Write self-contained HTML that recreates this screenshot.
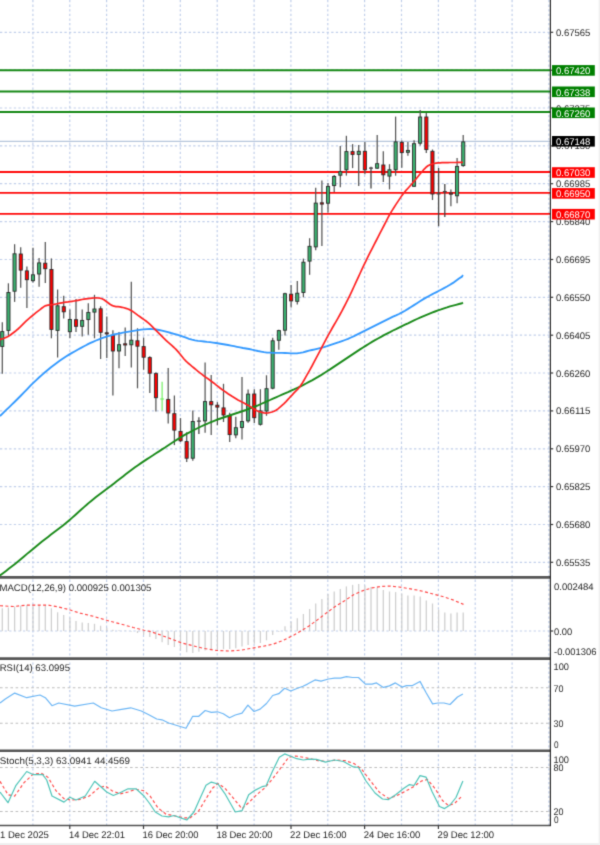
<!DOCTYPE html>
<html><head><meta charset="utf-8"><title>Chart</title>
<style>html,body{margin:0;padding:0;background:#fff}svg{display:block}text{font-family:"Liberation Sans",sans-serif;font-size:9.6px;fill:#262626;text-rendering:geometricPrecision}</style></head><body>
<svg width="600" height="845" viewBox="0 0 600 845">
<defs><filter id="soft" x="0" y="0" width="100%" height="100%" filterUnits="objectBoundingBox" color-interpolation-filters="sRGB"><feConvolveMatrix order="3" kernelMatrix="0.037 0.19 0.037 0.19 1 0.19 0.037 0.19 0.037" edgeMode="duplicate" preserveAlpha="true"/></filter></defs>
<g filter="url(#soft)">
<rect width="600" height="845" fill="#fff"/>
<g stroke="#c1cfea" stroke-width="1.2" stroke-dasharray="2.3 2.3" fill="none">
<line x1="32.9" y1="0" x2="32.9" y2="825"/>
<line x1="69.8" y1="0" x2="69.8" y2="825"/>
<line x1="106.6" y1="0" x2="106.6" y2="825"/>
<line x1="143.5" y1="0" x2="143.5" y2="825"/>
<line x1="180.3" y1="0" x2="180.3" y2="825"/>
<line x1="217.2" y1="0" x2="217.2" y2="825"/>
<line x1="254.1" y1="0" x2="254.1" y2="825"/>
<line x1="290.9" y1="0" x2="290.9" y2="825"/>
<line x1="327.8" y1="0" x2="327.8" y2="825"/>
<line x1="364.6" y1="0" x2="364.6" y2="825"/>
<line x1="401.5" y1="0" x2="401.5" y2="825"/>
<line x1="438.4" y1="0" x2="438.4" y2="825"/>
<line x1="475.2" y1="0" x2="475.2" y2="825"/>
<line x1="512.1" y1="0" x2="512.1" y2="825"/>
<line x1="548.9" y1="0" x2="548.9" y2="825"/>
<line x1="0" y1="32.3" x2="550.4" y2="32.3"/>
<line x1="0" y1="70.2" x2="550.4" y2="70.2"/>
<line x1="0" y1="108.0" x2="550.4" y2="108.0"/>
<line x1="0" y1="145.9" x2="550.4" y2="145.9"/>
<line x1="0" y1="183.7" x2="550.4" y2="183.7"/>
<line x1="0" y1="221.6" x2="550.4" y2="221.6"/>
<line x1="0" y1="259.5" x2="550.4" y2="259.5"/>
<line x1="0" y1="297.3" x2="550.4" y2="297.3"/>
<line x1="0" y1="335.2" x2="550.4" y2="335.2"/>
<line x1="0" y1="373.0" x2="550.4" y2="373.0"/>
<line x1="0" y1="410.9" x2="550.4" y2="410.9"/>
<line x1="0" y1="448.8" x2="550.4" y2="448.8"/>
<line x1="0" y1="486.6" x2="550.4" y2="486.6"/>
<line x1="0" y1="524.5" x2="550.4" y2="524.5"/>
<line x1="0" y1="562.3" x2="550.4" y2="562.3"/>
<line x1="0" y1="631" x2="550.4" y2="631"/>
</g>
<g stroke="#bdbdbd" stroke-width="1.1" stroke-dasharray="2.6 2.6">
<line x1="0" y1="687.8" x2="550.4" y2="687.8"/>
<line x1="0" y1="723.2" x2="550.4" y2="723.2"/>
<line x1="0" y1="767.5" x2="550.4" y2="767.5"/>
<line x1="0" y1="811.5" x2="550.4" y2="811.5"/>
</g>
<line x1="0" y1="141.4" x2="550.4" y2="141.4" stroke="#b7c6dc" stroke-width="1.2"/>
<line x1="0" y1="70.2" x2="550.4" y2="70.2" stroke="#158815" stroke-width="2.0"/>
<line x1="0" y1="91.6" x2="550.4" y2="91.6" stroke="#158815" stroke-width="2.0"/>
<line x1="0" y1="111.9" x2="550.4" y2="111.9" stroke="#158815" stroke-width="2.0"/>
<line x1="0" y1="172.0" x2="550.4" y2="172.0" stroke="#ff0a0a" stroke-width="1.8"/>
<line x1="0" y1="192.9" x2="550.4" y2="192.9" stroke="#ff0a0a" stroke-width="1.8"/>
<line x1="0" y1="213.8" x2="550.4" y2="213.8" stroke="#ff0a0a" stroke-width="1.8"/>
<g>
<line x1="2.3" y1="322.3" x2="2.3" y2="373.8" stroke="#555" stroke-width="1.25"/>
<rect x="0.7" y="331.6" width="3.1" height="14.8" fill="#3cb371" stroke="#2b2b2b" stroke-width="0.9"/>
<line x1="8.4" y1="283.3" x2="8.4" y2="336.5" stroke="#555" stroke-width="1.25"/>
<rect x="6.9" y="292.5" width="3.1" height="37.9" fill="#3cb371" stroke="#2b2b2b" stroke-width="0.9"/>
<line x1="14.6" y1="244.2" x2="14.6" y2="301.9" stroke="#555" stroke-width="1.25"/>
<rect x="13.0" y="253.8" width="3.1" height="37.4" fill="#3cb371" stroke="#2b2b2b" stroke-width="0.9"/>
<line x1="20.7" y1="247.2" x2="20.7" y2="287.7" stroke="#555" stroke-width="1.25"/>
<rect x="19.2" y="254.0" width="3.1" height="16.1" fill="#ff0000" stroke="#2b2b2b" stroke-width="0.9"/>
<line x1="26.9" y1="266.4" x2="26.9" y2="308.1" stroke="#555" stroke-width="1.25"/>
<rect x="25.3" y="270.9" width="3.1" height="8.8" fill="#ff0000" stroke="#2b2b2b" stroke-width="0.9"/>
<line x1="33.0" y1="247.8" x2="33.0" y2="282.4" stroke="#555" stroke-width="1.25"/>
<rect x="31.4" y="274.8" width="3.1" height="5.9" fill="#3cb371" stroke="#2b2b2b" stroke-width="0.9"/>
<line x1="39.1" y1="258.0" x2="39.1" y2="286.8" stroke="#555" stroke-width="1.25"/>
<rect x="37.6" y="262.9" width="3.1" height="11.1" fill="#3cb371" stroke="#2b2b2b" stroke-width="0.9"/>
<line x1="45.3" y1="242.1" x2="45.3" y2="282.9" stroke="#555" stroke-width="1.25"/>
<rect x="43.7" y="263.2" width="3.1" height="5.5" fill="#ff0000" stroke="#2b2b2b" stroke-width="0.9"/>
<line x1="51.4" y1="258.4" x2="51.4" y2="338.3" stroke="#555" stroke-width="1.25"/>
<rect x="49.9" y="269.5" width="3.1" height="59.9" fill="#ff0000" stroke="#2b2b2b" stroke-width="0.9"/>
<line x1="57.6" y1="289.5" x2="57.6" y2="357.5" stroke="#555" stroke-width="1.25"/>
<rect x="56.0" y="305.8" width="3.1" height="24.6" fill="#3cb371" stroke="#2b2b2b" stroke-width="0.9"/>
<line x1="63.7" y1="295.7" x2="63.7" y2="318.4" stroke="#555" stroke-width="1.25"/>
<rect x="62.2" y="306.7" width="3.1" height="5.1" fill="#ff0000" stroke="#2b2b2b" stroke-width="0.9"/>
<line x1="69.9" y1="309.5" x2="69.9" y2="338.3" stroke="#555" stroke-width="1.25"/>
<rect x="68.3" y="319.5" width="3.1" height="12.2" fill="#3cb371" stroke="#2b2b2b" stroke-width="0.9"/>
<line x1="76.0" y1="298.9" x2="76.0" y2="332.1" stroke="#555" stroke-width="1.25"/>
<rect x="74.5" y="319.7" width="3.1" height="6.6" fill="#ff0000" stroke="#2b2b2b" stroke-width="0.9"/>
<line x1="82.2" y1="309.5" x2="82.2" y2="336.5" stroke="#555" stroke-width="1.25"/>
<rect x="80.6" y="320.4" width="3.1" height="5.9" fill="#3cb371" stroke="#2b2b2b" stroke-width="0.9"/>
<line x1="88.3" y1="303.3" x2="88.3" y2="334.7" stroke="#555" stroke-width="1.25"/>
<rect x="86.8" y="312.4" width="3.1" height="7.2" fill="#3cb371" stroke="#2b2b2b" stroke-width="0.9"/>
<line x1="94.5" y1="294.8" x2="94.5" y2="338.3" stroke="#555" stroke-width="1.25"/>
<rect x="92.9" y="309.0" width="3.1" height="3.1" fill="#3cb371" stroke="#2b2b2b" stroke-width="0.9"/>
<line x1="100.6" y1="306.3" x2="100.6" y2="359.0" stroke="#555" stroke-width="1.25"/>
<rect x="99.1" y="308.8" width="3.1" height="23.5" fill="#ff0000" stroke="#2b2b2b" stroke-width="0.9"/>
<line x1="106.8" y1="316.4" x2="106.8" y2="358.1" stroke="#555" stroke-width="1.25"/>
<rect x="105.2" y="332.8" width="3.1" height="1.1" fill="#ff0000" stroke="#2b2b2b" stroke-width="0.9"/>
<line x1="112.9" y1="330.2" x2="112.9" y2="395.4" stroke="#555" stroke-width="1.25"/>
<rect x="111.3" y="335.4" width="3.1" height="15.6" fill="#ff0000" stroke="#2b2b2b" stroke-width="0.9"/>
<line x1="119.0" y1="332.0" x2="119.0" y2="368.2" stroke="#555" stroke-width="1.25"/>
<rect x="117.5" y="344.7" width="3.1" height="6.3" fill="#3cb371" stroke="#2b2b2b" stroke-width="0.9"/>
<line x1="125.2" y1="327.6" x2="125.2" y2="356.0" stroke="#555" stroke-width="1.25"/>
<rect x="123.6" y="343.8" width="3.1" height="1.2" fill="#ff0000" stroke="#2b2b2b" stroke-width="0.9"/>
<line x1="131.3" y1="281.8" x2="131.3" y2="367.5" stroke="#555" stroke-width="1.25"/>
<rect x="129.8" y="340.2" width="3.1" height="4.6" fill="#3cb371" stroke="#2b2b2b" stroke-width="0.9"/>
<line x1="137.5" y1="328.3" x2="137.5" y2="388.3" stroke="#555" stroke-width="1.25"/>
<rect x="135.9" y="340.8" width="3.1" height="5.4" fill="#ff0000" stroke="#2b2b2b" stroke-width="0.9"/>
<line x1="143.6" y1="337.7" x2="143.6" y2="369.7" stroke="#555" stroke-width="1.25"/>
<rect x="142.1" y="346.6" width="3.1" height="10.6" fill="#ff0000" stroke="#2b2b2b" stroke-width="0.9"/>
<line x1="149.8" y1="356.3" x2="149.8" y2="393.1" stroke="#555" stroke-width="1.25"/>
<rect x="148.2" y="357.6" width="3.1" height="15.6" fill="#ff0000" stroke="#2b2b2b" stroke-width="0.9"/>
<line x1="155.9" y1="372.3" x2="155.9" y2="411.4" stroke="#555" stroke-width="1.25"/>
<rect x="154.4" y="373.6" width="3.1" height="24.1" fill="#ff0000" stroke="#2b2b2b" stroke-width="0.9"/>
<path d="M162.1 381.7V410.5M160.1 399.0H164.1" stroke="#66ee55" stroke-width="1.1" fill="none"/>
<line x1="168.2" y1="367.9" x2="168.2" y2="423.6" stroke="#555" stroke-width="1.25"/>
<rect x="166.7" y="399.4" width="3.1" height="13.6" fill="#ff0000" stroke="#2b2b2b" stroke-width="0.9"/>
<line x1="174.4" y1="395.5" x2="174.4" y2="445.1" stroke="#555" stroke-width="1.25"/>
<rect x="172.8" y="413.7" width="3.1" height="16.4" fill="#ff0000" stroke="#2b2b2b" stroke-width="0.9"/>
<line x1="180.5" y1="418.1" x2="180.5" y2="442.0" stroke="#555" stroke-width="1.25"/>
<rect x="179.0" y="431.4" width="3.1" height="9.4" fill="#ff0000" stroke="#2b2b2b" stroke-width="0.9"/>
<line x1="186.7" y1="432.3" x2="186.7" y2="462.1" stroke="#555" stroke-width="1.25"/>
<rect x="185.1" y="441.6" width="3.1" height="16.6" fill="#ff0000" stroke="#2b2b2b" stroke-width="0.9"/>
<line x1="192.8" y1="410.5" x2="192.8" y2="460.7" stroke="#555" stroke-width="1.25"/>
<rect x="191.2" y="421.5" width="3.1" height="36.7" fill="#3cb371" stroke="#2b2b2b" stroke-width="0.9"/>
<path d="M198.9 417.2V434.1M196.9 421.1H200.9" stroke="#444" stroke-width="1.3" fill="none"/>
<line x1="205.1" y1="362.5" x2="205.1" y2="432.7" stroke="#555" stroke-width="1.25"/>
<rect x="203.5" y="401.6" width="3.1" height="19.3" fill="#3cb371" stroke="#2b2b2b" stroke-width="0.9"/>
<line x1="211.2" y1="375.0" x2="211.2" y2="435.0" stroke="#555" stroke-width="1.25"/>
<rect x="209.7" y="401.6" width="3.1" height="3.2" fill="#ff0000" stroke="#2b2b2b" stroke-width="0.9"/>
<line x1="217.4" y1="402.1" x2="217.4" y2="425.2" stroke="#555" stroke-width="1.25"/>
<rect x="215.8" y="405.2" width="3.1" height="1.9" fill="#ff0000" stroke="#2b2b2b" stroke-width="0.9"/>
<line x1="223.5" y1="383.8" x2="223.5" y2="422.0" stroke="#555" stroke-width="1.25"/>
<rect x="222.0" y="407.9" width="3.1" height="7.1" fill="#ff0000" stroke="#2b2b2b" stroke-width="0.9"/>
<line x1="229.7" y1="412.8" x2="229.7" y2="442.1" stroke="#555" stroke-width="1.25"/>
<rect x="228.1" y="415.8" width="3.1" height="18.8" fill="#ff0000" stroke="#2b2b2b" stroke-width="0.9"/>
<line x1="235.8" y1="416.7" x2="235.8" y2="438.2" stroke="#555" stroke-width="1.25"/>
<rect x="234.3" y="427.7" width="3.1" height="7.2" fill="#3cb371" stroke="#2b2b2b" stroke-width="0.9"/>
<line x1="242.0" y1="376.9" x2="242.0" y2="439.4" stroke="#555" stroke-width="1.25"/>
<rect x="240.4" y="421.5" width="3.1" height="6.0" fill="#3cb371" stroke="#2b2b2b" stroke-width="0.9"/>
<line x1="248.1" y1="389.5" x2="248.1" y2="422.7" stroke="#555" stroke-width="1.25"/>
<rect x="246.6" y="394.1" width="3.1" height="26.8" fill="#3cb371" stroke="#2b2b2b" stroke-width="0.9"/>
<line x1="254.3" y1="389.2" x2="254.3" y2="422.9" stroke="#555" stroke-width="1.25"/>
<rect x="252.7" y="394.0" width="3.1" height="23.7" fill="#ff0000" stroke="#2b2b2b" stroke-width="0.9"/>
<line x1="260.4" y1="389.2" x2="260.4" y2="425.6" stroke="#555" stroke-width="1.25"/>
<rect x="258.9" y="410.9" width="3.1" height="13.4" fill="#3cb371" stroke="#2b2b2b" stroke-width="0.9"/>
<line x1="266.5" y1="375.3" x2="266.5" y2="415.8" stroke="#555" stroke-width="1.25"/>
<rect x="265.0" y="388.7" width="3.1" height="22.3" fill="#3cb371" stroke="#2b2b2b" stroke-width="0.9"/>
<line x1="272.7" y1="337.7" x2="272.7" y2="389.2" stroke="#555" stroke-width="1.25"/>
<rect x="271.1" y="340.8" width="3.1" height="47.4" fill="#3cb371" stroke="#2b2b2b" stroke-width="0.9"/>
<line x1="278.8" y1="329.7" x2="278.8" y2="349.8" stroke="#555" stroke-width="1.25"/>
<rect x="277.3" y="330.6" width="3.1" height="9.7" fill="#3cb371" stroke="#2b2b2b" stroke-width="0.9"/>
<line x1="285.0" y1="292.8" x2="285.0" y2="335.4" stroke="#555" stroke-width="1.25"/>
<rect x="283.4" y="293.7" width="3.1" height="36.5" fill="#3cb371" stroke="#2b2b2b" stroke-width="0.9"/>
<line x1="291.1" y1="285.0" x2="291.1" y2="307.5" stroke="#555" stroke-width="1.25"/>
<rect x="289.6" y="294.2" width="3.1" height="6.7" fill="#ff0000" stroke="#2b2b2b" stroke-width="0.9"/>
<line x1="297.3" y1="280.9" x2="297.3" y2="304.5" stroke="#555" stroke-width="1.25"/>
<rect x="295.7" y="293.2" width="3.1" height="8.1" fill="#3cb371" stroke="#2b2b2b" stroke-width="0.9"/>
<line x1="303.4" y1="258.6" x2="303.4" y2="297.3" stroke="#555" stroke-width="1.25"/>
<rect x="301.9" y="262.2" width="3.1" height="30.3" fill="#3cb371" stroke="#2b2b2b" stroke-width="0.9"/>
<line x1="309.6" y1="238.2" x2="309.6" y2="274.8" stroke="#555" stroke-width="1.25"/>
<rect x="308.0" y="246.3" width="3.1" height="14.8" fill="#3cb371" stroke="#2b2b2b" stroke-width="0.9"/>
<line x1="315.7" y1="187.8" x2="315.7" y2="250.3" stroke="#555" stroke-width="1.25"/>
<rect x="314.2" y="203.1" width="3.1" height="43.8" fill="#3cb371" stroke="#2b2b2b" stroke-width="0.9"/>
<line x1="321.9" y1="180.5" x2="321.9" y2="245.9" stroke="#555" stroke-width="1.25"/>
<rect x="320.3" y="202.8" width="3.1" height="1.3" fill="#ff0000" stroke="#2b2b2b" stroke-width="0.9"/>
<line x1="328.0" y1="183.0" x2="328.0" y2="212.5" stroke="#555" stroke-width="1.25"/>
<rect x="326.5" y="186.4" width="3.1" height="16.8" fill="#3cb371" stroke="#2b2b2b" stroke-width="0.9"/>
<line x1="334.2" y1="174.9" x2="334.2" y2="192.0" stroke="#555" stroke-width="1.25"/>
<rect x="332.6" y="176.5" width="3.1" height="9.1" fill="#3cb371" stroke="#2b2b2b" stroke-width="0.9"/>
<line x1="340.3" y1="145.9" x2="340.3" y2="187.2" stroke="#555" stroke-width="1.25"/>
<rect x="338.8" y="171.6" width="3.1" height="3.6" fill="#3cb371" stroke="#2b2b2b" stroke-width="0.9"/>
<line x1="346.4" y1="135.8" x2="346.4" y2="175.6" stroke="#555" stroke-width="1.25"/>
<rect x="344.9" y="151.6" width="3.1" height="18.2" fill="#3cb371" stroke="#2b2b2b" stroke-width="0.9"/>
<line x1="352.6" y1="144.1" x2="352.6" y2="168.1" stroke="#555" stroke-width="1.25"/>
<rect x="351.0" y="151.6" width="3.1" height="2.8" fill="#ff0000" stroke="#2b2b2b" stroke-width="0.9"/>
<line x1="358.7" y1="145.0" x2="358.7" y2="185.9" stroke="#555" stroke-width="1.25"/>
<rect x="357.2" y="151.3" width="3.1" height="3.1" fill="#3cb371" stroke="#2b2b2b" stroke-width="0.9"/>
<line x1="364.9" y1="142.0" x2="364.9" y2="174.3" stroke="#555" stroke-width="1.25"/>
<rect x="363.3" y="151.3" width="3.1" height="18.5" fill="#ff0000" stroke="#2b2b2b" stroke-width="0.9"/>
<path d="M371.0 166.7V188.5M369.0 168.1H373.0" stroke="#444" stroke-width="1.3" fill="none"/>
<line x1="377.2" y1="134.9" x2="377.2" y2="169.0" stroke="#555" stroke-width="1.25"/>
<rect x="375.6" y="163.7" width="3.1" height="4.5" fill="#3cb371" stroke="#2b2b2b" stroke-width="0.9"/>
<line x1="383.3" y1="151.2" x2="383.3" y2="182.0" stroke="#555" stroke-width="1.25"/>
<rect x="381.8" y="165.0" width="3.1" height="9.8" fill="#ff0000" stroke="#2b2b2b" stroke-width="0.9"/>
<line x1="389.5" y1="164.2" x2="389.5" y2="189.4" stroke="#555" stroke-width="1.25"/>
<rect x="387.9" y="169.8" width="3.1" height="6.3" fill="#3cb371" stroke="#2b2b2b" stroke-width="0.9"/>
<line x1="395.6" y1="116.6" x2="395.6" y2="175.7" stroke="#555" stroke-width="1.25"/>
<rect x="394.1" y="141.9" width="3.1" height="27.9" fill="#3cb371" stroke="#2b2b2b" stroke-width="0.9"/>
<line x1="401.8" y1="140.6" x2="401.8" y2="167.8" stroke="#555" stroke-width="1.25"/>
<rect x="400.2" y="142.4" width="3.1" height="10.2" fill="#ff0000" stroke="#2b2b2b" stroke-width="0.9"/>
<line x1="407.9" y1="142.0" x2="407.9" y2="155.7" stroke="#555" stroke-width="1.25"/>
<rect x="406.4" y="150.4" width="3.1" height="1.9" fill="#3cb371" stroke="#2b2b2b" stroke-width="0.9"/>
<line x1="414.1" y1="140.2" x2="414.1" y2="187.1" stroke="#555" stroke-width="1.25"/>
<rect x="412.5" y="143.7" width="3.1" height="42.6" fill="#3cb371" stroke="#2b2b2b" stroke-width="0.9"/>
<line x1="420.2" y1="109.9" x2="420.2" y2="145.4" stroke="#555" stroke-width="1.25"/>
<rect x="418.6" y="117.0" width="3.1" height="26.2" fill="#3cb371" stroke="#2b2b2b" stroke-width="0.9"/>
<line x1="426.3" y1="113.1" x2="426.3" y2="153.0" stroke="#555" stroke-width="1.25"/>
<rect x="424.8" y="117.0" width="3.1" height="32.6" fill="#ff0000" stroke="#2b2b2b" stroke-width="0.9"/>
<line x1="432.5" y1="149.5" x2="432.5" y2="200.0" stroke="#555" stroke-width="1.25"/>
<rect x="430.9" y="151.3" width="3.1" height="42.7" fill="#ff0000" stroke="#2b2b2b" stroke-width="0.9"/>
<path d="M438.6 168.1V226.3M436.6 193.9H440.6" stroke="#444" stroke-width="1.3" fill="none"/>
<path d="M444.8 184.1V216.9M442.8 191.7H446.8" stroke="#444" stroke-width="1.3" fill="none"/>
<line x1="450.9" y1="189.4" x2="450.9" y2="206.3" stroke="#555" stroke-width="1.25"/>
<rect x="449.4" y="193.0" width="3.1" height="1.2" fill="#ff0000" stroke="#2b2b2b" stroke-width="0.9"/>
<line x1="457.1" y1="158.0" x2="457.1" y2="203.3" stroke="#555" stroke-width="1.25"/>
<rect x="455.5" y="166.4" width="3.1" height="29.4" fill="#3cb371" stroke="#2b2b2b" stroke-width="0.9"/>
<line x1="463.2" y1="134.9" x2="463.2" y2="166.7" stroke="#555" stroke-width="1.25"/>
<rect x="461.7" y="141.9" width="3.1" height="23.7" fill="#3cb371" stroke="#2b2b2b" stroke-width="0.9"/>
</g>
<polyline points="0.0,575.4 3.0,573.2 6.0,570.9 9.0,568.6 12.0,566.3 15.0,563.9 18.0,561.5 21.0,559.0 24.0,556.5 27.0,553.9 30.0,551.4 33.0,548.9 36.0,546.4 39.0,543.9 42.0,541.5 45.0,539.2 48.0,536.9 51.0,534.6 54.0,532.3 57.0,530.0 60.0,527.7 63.0,525.4 66.0,523.0 69.0,520.5 72.0,517.9 75.0,515.2 78.0,512.5 81.0,509.8 84.0,507.1 87.0,504.5 90.0,501.9 93.0,499.5 96.0,497.1 99.0,494.8 102.0,492.5 105.0,490.3 108.0,488.0 111.0,485.8 114.0,483.4 117.0,481.1 120.0,478.8 123.0,476.4 126.0,474.1 129.0,471.8 132.0,469.5 135.0,467.3 138.0,465.2 141.0,463.1 144.0,461.1 147.0,459.1 150.0,457.2 153.0,455.3 156.0,453.3 159.0,451.4 162.0,449.4 165.0,447.5 168.0,445.5 171.0,443.5 174.0,441.5 177.0,439.6 180.0,437.7 183.0,435.9 186.0,434.2 189.0,432.6 192.0,431.0 195.0,429.5 198.0,428.0 201.0,426.5 204.0,425.1 207.0,423.8 210.0,422.5 213.0,421.3 216.0,420.1 219.0,419.0 222.0,418.0 225.0,417.0 228.0,416.0 231.0,415.0 234.0,414.0 237.0,413.0 240.0,412.0 243.0,411.0 246.0,410.0 249.0,408.9 252.0,407.7 255.0,406.5 258.0,405.3 261.0,404.0 264.0,402.7 267.0,401.3 270.0,400.0 273.0,398.6 276.0,397.3 279.0,396.0 282.0,394.7 285.0,393.4 288.0,392.1 291.0,390.7 294.0,389.4 297.0,388.0 300.0,386.6 303.0,385.1 306.0,383.5 309.0,381.9 312.0,380.3 315.0,378.6 318.0,376.9 321.0,375.1 324.0,373.2 327.0,371.3 330.0,369.4 333.0,367.4 336.0,365.4 339.0,363.4 342.0,361.4 345.0,359.4 348.0,357.4 351.0,355.4 354.0,353.4 357.0,351.4 360.0,349.4 363.0,347.5 366.0,345.6 369.0,343.7 372.0,341.9 375.0,340.2 378.0,338.5 381.0,336.8 384.0,335.2 387.0,333.6 390.0,332.1 393.0,330.5 396.0,329.1 399.0,327.6 402.0,326.1 405.0,324.7 408.0,323.3 411.0,321.8 414.0,320.4 417.0,319.0 420.0,317.7 423.0,316.4 426.0,315.1 429.0,313.9 432.0,312.7 435.0,311.5 438.0,310.4 441.0,309.4 444.0,308.3 447.0,307.4 450.0,306.4 453.0,305.6 456.0,304.8 459.0,304.0 462.0,303.3 462.9,302.6" fill="none" stroke="#1a8a1a" stroke-width="1.9" stroke-linejoin="round"/>
<polyline points="0.0,416.0 3.0,413.1 6.0,410.2 9.0,407.3 12.0,404.4 15.0,401.5 18.0,398.5 21.0,395.5 24.0,392.4 27.0,389.3 30.0,386.2 33.0,383.2 36.0,380.3 39.0,377.5 42.0,374.9 45.0,372.3 48.0,369.8 51.0,367.3 54.0,365.0 57.0,362.8 60.0,360.6 63.0,358.5 66.0,356.5 69.0,354.6 72.0,352.9 75.0,351.2 78.0,349.5 81.0,347.9 84.0,346.3 87.0,344.7 90.0,343.2 93.0,341.8 96.0,340.5 99.0,339.3 102.0,338.2 105.0,337.2 108.0,336.2 111.0,335.3 114.0,334.5 117.0,333.9 120.0,333.3 123.0,332.7 126.0,332.2 129.0,331.7 132.0,331.2 135.0,330.6 138.0,330.1 141.0,329.6 144.0,329.3 147.0,329.1 150.0,329.0 153.0,329.2 156.0,329.5 159.0,330.0 162.0,330.6 165.0,331.3 168.0,332.1 171.0,333.0 174.0,333.8 177.0,334.7 180.0,335.7 183.0,336.7 186.0,337.7 189.0,338.8 192.0,339.7 195.0,340.3 198.0,340.8 201.0,341.1 204.0,341.5 207.0,341.9 210.0,342.2 213.0,342.6 216.0,343.0 219.0,343.5 222.0,344.0 225.0,344.5 228.0,345.0 231.0,345.6 234.0,346.2 237.0,346.8 240.0,347.4 243.0,348.0 246.0,348.5 249.0,349.0 252.0,349.7 255.0,350.3 258.0,351.0 261.0,351.6 264.0,352.2 267.0,352.6 270.0,352.7 273.0,352.8 276.0,352.8 279.0,352.8 282.0,352.9 285.0,353.0 288.0,353.2 291.0,353.4 294.0,353.4 297.0,353.3 300.0,352.9 303.0,352.3 306.0,351.5 309.0,350.7 312.0,350.0 315.0,349.3 318.0,348.6 321.0,347.9 324.0,347.1 327.0,346.2 330.0,345.2 333.0,344.2 336.0,343.2 339.0,342.2 342.0,341.1 345.0,340.0 348.0,338.9 351.0,337.5 354.0,336.1 357.0,334.6 360.0,333.1 363.0,331.6 366.0,330.1 369.0,328.6 372.0,327.1 375.0,325.6 378.0,324.1 381.0,322.6 384.0,321.1 387.0,319.6 390.0,318.2 393.0,316.7 396.0,315.4 399.0,314.0 402.0,312.4 405.0,310.7 408.0,308.9 411.0,307.0 414.0,305.1 417.0,303.2 420.0,301.3 423.0,299.4 426.0,297.6 429.0,296.0 432.0,294.4 435.0,292.8 438.0,291.3 441.0,289.7 444.0,288.1 447.0,286.5 450.0,284.8 453.0,282.9 456.0,280.7 459.0,278.5 462.0,276.6 462.9,275.0" fill="none" stroke="#3399ff" stroke-width="1.85" stroke-linejoin="round"/>
<polyline points="0.0,339.7 2.0,338.9 4.0,338.2 6.0,337.4 8.0,336.4 10.0,335.2 12.0,333.7 14.0,332.2 16.0,330.7 18.0,329.0 20.0,327.2 22.0,325.2 24.0,323.1 26.0,321.2 28.0,319.4 30.0,317.7 32.0,316.0 34.0,314.4 36.0,312.7 38.0,311.1 40.0,309.6 42.0,308.0 44.0,306.6 46.0,305.6 48.0,305.1 50.0,304.9 52.0,304.7 54.0,304.4 56.0,304.0 58.0,303.6 60.0,303.2 62.0,302.8 64.0,302.4 66.0,302.1 68.0,301.9 70.0,301.6 72.0,301.3 74.0,301.0 76.0,300.7 78.0,300.3 80.0,299.9 82.0,299.5 84.0,299.2 86.0,298.9 88.0,298.6 90.0,298.4 92.0,298.2 94.0,298.0 96.0,297.9 98.0,298.0 100.0,298.2 102.0,298.7 104.0,299.7 106.0,301.2 108.0,302.7 110.0,304.2 112.0,305.4 114.0,306.2 116.0,306.6 118.0,306.7 120.0,306.9 122.0,307.3 124.0,307.8 126.0,308.4 128.0,309.0 130.0,309.9 132.0,311.0 134.0,312.4 136.0,313.9 138.0,315.4 140.0,316.8 142.0,318.2 144.0,319.6 146.0,321.0 148.0,322.6 150.0,324.4 152.0,326.3 154.0,328.4 156.0,330.4 158.0,332.4 160.0,334.4 162.0,336.4 164.0,338.4 166.0,340.3 168.0,342.2 170.0,343.9 172.0,345.7 174.0,347.5 176.0,349.4 178.0,351.6 180.0,354.0 182.0,356.5 184.0,359.0 186.0,361.1 188.0,363.0 190.0,364.7 192.0,366.4 194.0,368.0 196.0,369.7 198.0,371.3 200.0,372.9 202.0,374.4 204.0,376.0 206.0,377.4 208.0,378.8 210.0,380.2 212.0,381.7 214.0,383.2 216.0,384.8 218.0,386.4 220.0,388.0 222.0,389.5 224.0,390.9 226.0,392.3 228.0,393.7 230.0,395.0 232.0,396.3 234.0,397.5 236.0,398.7 238.0,399.9 240.0,401.0 242.0,402.1 244.0,403.1 246.0,404.2 248.0,405.3 250.0,406.4 252.0,407.7 254.0,409.0 256.0,410.2 258.0,411.2 260.0,411.9 262.0,412.4 264.0,412.9 266.0,413.1 268.0,413.0 270.0,412.5 272.0,412.0 274.0,411.3 276.0,410.3 278.0,408.9 280.0,407.2 282.0,405.4 284.0,403.6 286.0,401.6 288.0,399.4 290.0,397.2 292.0,395.1 294.0,392.9 296.0,390.9 298.0,388.9 300.0,386.5 302.0,383.6 304.0,380.2 306.0,376.7 308.0,373.2 310.0,369.6 312.0,366.0 314.0,362.2 316.0,358.4 318.0,354.6 320.0,350.8 322.0,347.0 324.0,343.2 326.0,339.4 328.0,335.7 330.0,332.1 332.0,328.5 334.0,325.0 336.0,321.6 338.0,318.1 340.0,314.5 342.0,310.8 344.0,307.0 346.0,303.2 348.0,299.2 350.0,295.1 352.0,290.8 354.0,286.5 356.0,282.2 358.0,277.8 360.0,273.5 362.0,269.2 364.0,264.9 366.0,260.8 368.0,256.7 370.0,252.7 372.0,248.8 374.0,244.9 376.0,241.0 378.0,237.1 380.0,233.2 382.0,229.3 384.0,225.5 386.0,221.6 388.0,217.7 390.0,214.0 392.0,210.6 394.0,207.5 396.0,204.4 398.0,201.4 400.0,198.4 402.0,195.4 404.0,192.8 406.0,190.4 408.0,188.2 410.0,186.0 412.0,183.7 414.0,181.4 416.0,179.0 418.0,176.5 420.0,174.0 422.0,171.7 424.0,169.3 426.0,167.3 428.0,165.8 430.0,164.7 432.0,164.0 434.0,163.5 436.0,163.2 438.0,162.9 440.0,162.8 442.0,162.7 444.0,162.7 446.0,162.6 448.0,162.6 450.0,162.5 452.0,162.5 454.0,162.5 456.0,162.5 458.0,162.4 460.0,162.4 462.0,162.4 463.0,162.4" fill="none" stroke="#ff2222" stroke-width="1.7" stroke-linejoin="round"/>
<g stroke="#cecece" stroke-width="1.25">
<line x1="2.3" y1="631" x2="2.3" y2="608.3"/>
<line x1="8.4" y1="631" x2="8.4" y2="607.5"/>
<line x1="14.6" y1="631" x2="14.6" y2="606.5"/>
<line x1="20.7" y1="631" x2="20.7" y2="605.7"/>
<line x1="26.9" y1="631" x2="26.9" y2="605.1"/>
<line x1="33.0" y1="631" x2="33.0" y2="605.1"/>
<line x1="39.1" y1="631" x2="39.1" y2="605.1"/>
<line x1="45.3" y1="631" x2="45.3" y2="605.1"/>
<line x1="51.4" y1="631" x2="51.4" y2="608.3"/>
<line x1="57.6" y1="631" x2="57.6" y2="612.3"/>
<line x1="63.7" y1="631" x2="63.7" y2="615"/>
<line x1="69.9" y1="631" x2="69.9" y2="617.7"/>
<line x1="76.0" y1="631" x2="76.0" y2="620.9"/>
<line x1="82.2" y1="631" x2="82.2" y2="622.5"/>
<line x1="88.3" y1="631" x2="88.3" y2="623"/>
<line x1="94.5" y1="631" x2="94.5" y2="623.8"/>
<line x1="100.6" y1="631" x2="100.6" y2="625.7"/>
<line x1="106.8" y1="631" x2="106.8" y2="627.8"/>
<line x1="112.9" y1="631" x2="112.9" y2="629.7"/>
<line x1="119.0" y1="631" x2="119.0" y2="630.3"/>
<line x1="125.2" y1="631" x2="125.2" y2="630.6"/>
<line x1="131.3" y1="631" x2="131.3" y2="631.6"/>
<line x1="137.5" y1="631" x2="137.5" y2="633"/>
<line x1="143.6" y1="631" x2="143.6" y2="635"/>
<line x1="149.8" y1="631" x2="149.8" y2="637"/>
<line x1="155.9" y1="631" x2="155.9" y2="639"/>
<line x1="162.1" y1="631" x2="162.1" y2="642.2"/>
<line x1="168.2" y1="631" x2="168.2" y2="644.9"/>
<line x1="174.4" y1="631" x2="174.4" y2="647"/>
<line x1="180.5" y1="631" x2="180.5" y2="650.2"/>
<line x1="186.7" y1="631" x2="186.7" y2="652.3"/>
<line x1="192.8" y1="631" x2="192.8" y2="653.1"/>
<line x1="198.9" y1="631" x2="198.9" y2="651.8"/>
<line x1="205.1" y1="631" x2="205.1" y2="650.5"/>
<line x1="211.2" y1="631" x2="211.2" y2="649.1"/>
<line x1="217.4" y1="631" x2="217.4" y2="649.7"/>
<line x1="223.5" y1="631" x2="223.5" y2="649.1"/>
<line x1="229.7" y1="631" x2="229.7" y2="649.1"/>
<line x1="235.8" y1="631" x2="235.8" y2="648.3"/>
<line x1="242.0" y1="631" x2="242.0" y2="646.5"/>
<line x1="248.1" y1="631" x2="248.1" y2="644.9"/>
<line x1="254.3" y1="631" x2="254.3" y2="643.8"/>
<line x1="260.4" y1="631" x2="260.4" y2="643"/>
<line x1="266.5" y1="631" x2="266.5" y2="640.3"/>
<line x1="272.7" y1="631" x2="272.7" y2="635"/>
<line x1="278.8" y1="631" x2="278.8" y2="631.8"/>
<line x1="285.0" y1="631" x2="285.0" y2="626.2"/>
<line x1="291.1" y1="631" x2="291.1" y2="621.7"/>
<line x1="297.3" y1="631" x2="297.3" y2="618.2"/>
<line x1="303.4" y1="631" x2="303.4" y2="614"/>
<line x1="309.6" y1="631" x2="309.6" y2="609"/>
<line x1="315.7" y1="631" x2="315.7" y2="603.5"/>
<line x1="321.9" y1="631" x2="321.9" y2="599"/>
<line x1="328.0" y1="631" x2="328.0" y2="593.9"/>
<line x1="334.2" y1="631" x2="334.2" y2="591.5"/>
<line x1="340.3" y1="631" x2="340.3" y2="589.1"/>
<line x1="346.4" y1="631" x2="346.4" y2="586.4"/>
<line x1="352.6" y1="631" x2="352.6" y2="584.9"/>
<line x1="358.7" y1="631" x2="358.7" y2="584"/>
<line x1="364.9" y1="631" x2="364.9" y2="585.5"/>
<line x1="371.0" y1="631" x2="371.0" y2="587"/>
<line x1="377.2" y1="631" x2="377.2" y2="587.6"/>
<line x1="383.3" y1="631" x2="383.3" y2="590"/>
<line x1="389.5" y1="631" x2="389.5" y2="591.5"/>
<line x1="395.6" y1="631" x2="395.6" y2="592.1"/>
<line x1="401.8" y1="631" x2="401.8" y2="593.6"/>
<line x1="407.9" y1="631" x2="407.9" y2="595.4"/>
<line x1="414.1" y1="631" x2="414.1" y2="595.4"/>
<line x1="420.2" y1="631" x2="420.2" y2="596.6"/>
<line x1="426.3" y1="631" x2="426.3" y2="600.5"/>
<line x1="432.5" y1="631" x2="432.5" y2="603.5"/>
<line x1="438.6" y1="631" x2="438.6" y2="609.5"/>
<line x1="444.8" y1="631" x2="444.8" y2="612.5"/>
<line x1="450.9" y1="631" x2="450.9" y2="613.4"/>
<line x1="457.1" y1="631" x2="457.1" y2="612.5"/>
<line x1="463.2" y1="631" x2="463.2" y2="612.5"/>
</g>
<polyline points="0.0,605.7 13.3,606.5 26.7,605.1 48.0,605.1 58.7,607.0 69.3,609.7 80.0,613.1 93.3,616.3 106.7,620.3 120.0,623.8 133.3,627.5 144.0,630.2 150.0,631.4 160.7,635.0 171.3,639.0 182.0,643.0 192.7,645.7 203.3,648.3 216.7,650.5 230.0,651.0 240.7,650.2 251.3,648.3 262.0,646.5 272.7,644.3 283.3,640.3 294.0,635.0 300.0,631.5 309.0,626.0 318.0,619.4 327.0,612.5 336.0,605.9 345.0,600.5 354.0,594.5 363.0,590.6 372.0,587.9 381.0,586.4 390.0,586.1 399.0,587.0 408.0,588.5 417.0,590.0 426.0,592.1 435.0,594.5 444.0,596.9 453.0,599.9 463.5,604.4" fill="none" stroke="#ff4545" stroke-width="1.15" stroke-dasharray="3 2.4"/>
<polyline points="0.0,703.0 5.3,699.0 14.7,693.1 26.7,697.7 40.0,695.0 45.3,697.7 52.0,705.7 58.7,703.0 74.7,706.2 93.3,703.0 101.3,707.8 112.0,711.0 120.0,709.7 130.7,707.8 141.3,711.0 149.3,715.0 156.7,719.0 162.0,719.8 168.7,723.0 186.0,728.3 192.7,716.3 198.8,716.3 205.2,710.5 211.3,712.3 217.5,711.8 223.3,713.7 229.5,717.7 235.3,715.0 242.0,713.1 247.9,705.1 254.0,711.5 260.1,709.1 266.5,703.5 272.7,695.5 278.8,693.7 284.7,688.3 290.8,691.0 297.5,688.3 303.0,686.3 307.5,684.1 315.0,679.9 321.0,681.1 328.5,679.0 334.5,678.1 340.5,678.1 346.5,676.6 352.5,677.5 358.5,677.5 365.4,684.1 372.0,684.1 376.5,682.9 383.4,687.4 389.4,685.9 395.4,682.9 402.0,687.1 406.5,685.6 412.5,685.6 420.0,681.4 426.0,692.5 432.6,703.9 438.0,703.0 444.0,703.0 450.0,704.5 457.5,697.0 462.9,694.0" fill="none" stroke="#6cb6f5" stroke-width="1.2" stroke-linejoin="round"/>
<polyline points="0.0,781.3 8.0,794.7 14.7,796.0 24.0,782.7 33.3,774.1 41.3,773.3 48.0,777.3 56.0,790.7 64.0,798.7 70.7,800.0 80.0,799.5 89.3,796.0 98.7,788.0 105.3,785.9 112.0,790.7 120.0,793.9 128.0,792.0 136.0,789.3 144.0,790.7 150.0,796.0 158.0,808.0 166.0,814.1 175.3,816.0 184.7,817.9 190.0,817.9 198.0,812.0 206.0,798.7 212.7,788.0 218.0,783.5 224.7,788.0 232.7,797.3 242.0,808.8 250.0,801.3 256.7,794.7 264.7,788.0 272.7,778.7 280.7,768.0 288.7,757.3 295.3,756.0 303.3,757.3 309.0,758.5 318.0,760.6 327.0,761.5 336.0,760.0 345.0,760.6 354.0,763.6 361.5,769.0 370.5,781.0 379.5,792.4 388.5,798.4 396.0,796.0 405.0,791.5 414.0,786.4 421.5,781.0 427.5,779.5 435.0,788.5 442.5,800.5 448.5,805.6 454.5,803.5 462.0,796.0" fill="none" stroke="#ff4a4a" stroke-width="1.15" stroke-dasharray="3 2.4"/>
<polyline points="0.0,792.0 8.0,802.7 16.0,785.3 26.7,771.5 33.3,774.7 42.7,774.7 46.7,780.0 52.0,796.0 64.0,802.1 69.9,797.3 76.0,800.0 85.3,796.0 94.7,781.3 106.7,792.0 113.3,795.5 120.0,792.8 128.0,788.8 136.0,788.8 144.0,796.0 150.0,804.0 155.3,812.0 162.0,816.0 168.7,816.8 174.0,815.5 180.7,817.9 186.8,820.0 194.0,812.0 199.3,800.0 206.0,785.3 211.3,782.1 218.0,784.0 224.7,793.3 235.3,812.0 242.0,810.7 248.7,794.7 255.3,790.1 262.0,786.7 266.0,785.9 272.7,770.7 279.3,757.3 284.7,753.9 290.0,756.0 296.7,758.7 303.3,760.0 309.0,759.1 316.5,759.4 325.5,762.1 334.5,760.0 343.5,761.5 352.5,766.6 358.5,767.5 366.0,781.0 375.0,793.0 382.5,799.0 388.5,799.6 396.0,794.5 403.5,788.5 409.5,784.6 414.0,785.5 420.0,775.6 426.0,777.1 432.0,791.5 439.5,806.5 444.6,808.6 450.0,805.0 456.0,797.5 462.9,781.0" fill="none" stroke="#4fc4b8" stroke-width="1.2" stroke-linejoin="round"/>
<rect x="550.4" y="0" width="49.60000000000002" height="845" fill="#fff"/>
<rect x="0" y="826" width="600" height="19" fill="#fff"/>
<line x1="0" y1="577.4" x2="550.9" y2="577.4" stroke="#555" stroke-width="2.6"/>
<line x1="0" y1="658.6" x2="550.9" y2="658.6" stroke="#555" stroke-width="2.6"/>
<line x1="0" y1="750.8" x2="550.9" y2="750.8" stroke="#555" stroke-width="2.6"/>
<line x1="0" y1="825.5" x2="550.9" y2="825.5" stroke="#505050" stroke-width="1.5"/>
<line x1="550.4" y1="0" x2="550.4" y2="826" stroke="#2a2a2a" stroke-width="1.2"/>
<g stroke="#3a3a3a" stroke-width="1.2">
<line x1="550.4" y1="32.3" x2="553.1999999999999" y2="32.3"/>
<line x1="550.4" y1="70.2" x2="553.1999999999999" y2="70.2"/>
<line x1="550.4" y1="108.0" x2="553.1999999999999" y2="108.0"/>
<line x1="550.4" y1="145.9" x2="553.1999999999999" y2="145.9"/>
<line x1="550.4" y1="183.7" x2="553.1999999999999" y2="183.7"/>
<line x1="550.4" y1="221.6" x2="553.1999999999999" y2="221.6"/>
<line x1="550.4" y1="259.5" x2="553.1999999999999" y2="259.5"/>
<line x1="550.4" y1="297.3" x2="553.1999999999999" y2="297.3"/>
<line x1="550.4" y1="335.2" x2="553.1999999999999" y2="335.2"/>
<line x1="550.4" y1="373.0" x2="553.1999999999999" y2="373.0"/>
<line x1="550.4" y1="410.9" x2="553.1999999999999" y2="410.9"/>
<line x1="550.4" y1="448.8" x2="553.1999999999999" y2="448.8"/>
<line x1="550.4" y1="486.6" x2="553.1999999999999" y2="486.6"/>
<line x1="550.4" y1="524.5" x2="553.1999999999999" y2="524.5"/>
<line x1="550.4" y1="562.3" x2="553.1999999999999" y2="562.3"/>
<line x1="550.4" y1="631" x2="553.1999999999999" y2="631"/>
<line x1="69.8" y1="825.5" x2="69.8" y2="829"/>
<line x1="143.5" y1="825.5" x2="143.5" y2="829"/>
<line x1="217.2" y1="825.5" x2="217.2" y2="829"/>
<line x1="291" y1="825.5" x2="291" y2="829"/>
<line x1="364.6" y1="825.5" x2="364.6" y2="829"/>
<line x1="438.4" y1="825.5" x2="438.4" y2="829"/>
</g>
<text x="556" y="35.80" textLength="34.4" lengthAdjust="spacingAndGlyphs">0.67565</text>
<text x="556" y="73.66" textLength="34.4" lengthAdjust="spacingAndGlyphs">0.67420</text>
<text x="556" y="111.52" textLength="34.4" lengthAdjust="spacingAndGlyphs">0.67275</text>
<text x="556" y="149.38" textLength="34.4" lengthAdjust="spacingAndGlyphs">0.67130</text>
<text x="556" y="187.24" textLength="34.4" lengthAdjust="spacingAndGlyphs">0.66985</text>
<text x="556" y="225.10" textLength="34.4" lengthAdjust="spacingAndGlyphs">0.66840</text>
<text x="556" y="262.96" textLength="34.4" lengthAdjust="spacingAndGlyphs">0.66695</text>
<text x="556" y="300.82" textLength="34.4" lengthAdjust="spacingAndGlyphs">0.66550</text>
<text x="556" y="338.68" textLength="34.4" lengthAdjust="spacingAndGlyphs">0.66405</text>
<text x="556" y="376.54" textLength="34.4" lengthAdjust="spacingAndGlyphs">0.66260</text>
<text x="556" y="414.40" textLength="34.4" lengthAdjust="spacingAndGlyphs">0.66115</text>
<text x="556" y="452.26" textLength="34.4" lengthAdjust="spacingAndGlyphs">0.65970</text>
<text x="556" y="490.12" textLength="34.4" lengthAdjust="spacingAndGlyphs">0.65825</text>
<text x="556" y="527.98" textLength="34.4" lengthAdjust="spacingAndGlyphs">0.65680</text>
<text x="556" y="565.84" textLength="34.4" lengthAdjust="spacingAndGlyphs">0.65535</text>
<rect x="552" y="65.1" width="42.8" height="10.6" fill="#008000"/>
<text x="556" y="74.20" textLength="34.4" lengthAdjust="spacingAndGlyphs" fill="#fff" style="fill:#fff">0.67420</text>
<rect x="552" y="86.5" width="42.8" height="10.6" fill="#008000"/>
<text x="556" y="95.65" textLength="34.4" lengthAdjust="spacingAndGlyphs" fill="#fff" style="fill:#fff">0.67338</text>
<rect x="552" y="107.5" width="42.8" height="10.6" fill="#008000"/>
<text x="556" y="116.60" textLength="34.4" lengthAdjust="spacingAndGlyphs" fill="#fff" style="fill:#fff">0.67260</text>
<rect x="552" y="136.0" width="42.8" height="10.6" fill="#000000"/>
<text x="556" y="145.10" textLength="34.4" lengthAdjust="spacingAndGlyphs" fill="#fff" style="fill:#fff">0.67148</text>
<rect x="552" y="167.2" width="42.8" height="10.6" fill="#ff0000"/>
<text x="556" y="176.30" textLength="34.4" lengthAdjust="spacingAndGlyphs" fill="#fff" style="fill:#fff">0.67030</text>
<rect x="552" y="188.1" width="42.8" height="10.6" fill="#ff0000"/>
<text x="556" y="197.20" textLength="34.4" lengthAdjust="spacingAndGlyphs" fill="#fff" style="fill:#fff">0.66950</text>
<rect x="552" y="208.9" width="42.8" height="10.6" fill="#ff0000"/>
<text x="556" y="218.00" textLength="34.4" lengthAdjust="spacingAndGlyphs" fill="#fff" style="fill:#fff">0.66870</text>
<text x="554" y="589.50" textLength="39.6" lengthAdjust="spacingAndGlyphs">0.002484</text>
<text x="554" y="634.90" textLength="18.2" lengthAdjust="spacingAndGlyphs">0.00</text>
<text x="554" y="655.00" textLength="42.4" lengthAdjust="spacingAndGlyphs">-0.001306</text>
<text x="553.6" y="670.10" textLength="15.4" lengthAdjust="spacingAndGlyphs">100</text>
<text x="553.6" y="691.50" textLength="10" lengthAdjust="spacingAndGlyphs">70</text>
<text x="553.6" y="726.90" textLength="10" lengthAdjust="spacingAndGlyphs">30</text>
<text x="554" y="747.80" textLength="4.6" lengthAdjust="spacingAndGlyphs">0</text>
<text x="553.6" y="762.90" textLength="15.4" lengthAdjust="spacingAndGlyphs">100</text>
<text x="553.6" y="771.10" textLength="10" lengthAdjust="spacingAndGlyphs">80</text>
<text x="553.6" y="815.10" textLength="10" lengthAdjust="spacingAndGlyphs">20</text>
<text x="554" y="823.20" textLength="4.6" lengthAdjust="spacingAndGlyphs">0</text>
<text x="-0.6" y="590.50" textLength="152" lengthAdjust="spacingAndGlyphs">MACD(12,26,9) 0.000925 0.001305</text>
<text x="-0.3" y="670.70" textLength="70.3" lengthAdjust="spacingAndGlyphs">RSI(14) 63.0995</text>
<text x="-0.3" y="763.80" textLength="130.3" lengthAdjust="spacingAndGlyphs">Stoch(5,3,3) 63.0941 44.4569</text>
<text x="0" y="838.10" textLength="48.8" lengthAdjust="spacingAndGlyphs">1 Dec 2025</text>
<text x="68.9" y="838.10" textLength="56" lengthAdjust="spacingAndGlyphs">14 Dec 22:01</text>
<text x="142.6" y="838.10" textLength="56" lengthAdjust="spacingAndGlyphs">16 Dec 20:00</text>
<text x="216.4" y="838.10" textLength="56" lengthAdjust="spacingAndGlyphs">18 Dec 20:00</text>
<text x="290.1" y="838.10" textLength="56.5" lengthAdjust="spacingAndGlyphs">22 Dec 16:00</text>
<text x="363.8" y="838.10" textLength="56.5" lengthAdjust="spacingAndGlyphs">24 Dec 16:00</text>
<text x="437.6" y="838.10" textLength="56.5" lengthAdjust="spacingAndGlyphs">29 Dec 12:00</text>
<rect x="0" y="843.3" width="600" height="1.7" fill="#ececec"/>
<rect x="598.7" y="0" width="1.3" height="845" fill="#efefef"/>
</g></svg></body></html>
